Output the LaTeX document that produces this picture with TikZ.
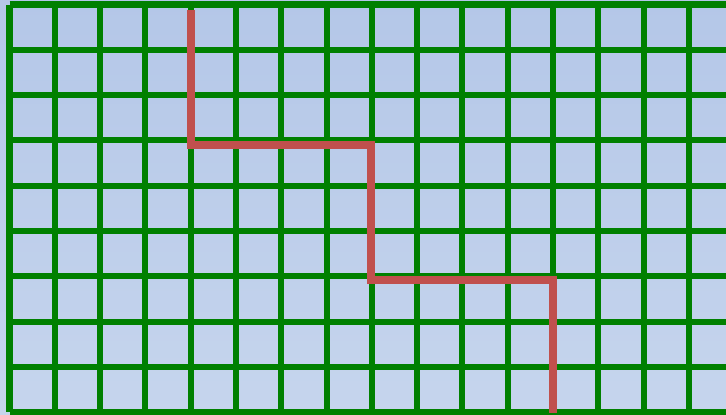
\documentclass[tikz,border=0pt]{standalone}
\definecolor{gridgreen}{RGB}{0,128,0}
\definecolor{pathred}{RGB}{192,80,77}
\definecolor{bgtop}{RGB}{180,199,232}
\definecolor{bgbottom}{RGB}{198,213,237}
\begin{document}
\begin{tikzpicture}[
  gridline/.style={draw=gridgreen, line width=3.8pt},
  route/.style={draw=pathred, line width=5pt, line join=miter}]

  % canvas
  \useasboundingbox (0,0) rectangle (16.03,-9.16);
  \shade[top color=bgtop, bottom color=bgbottom] (0,0) rectangle (16.03,-9.16);

  % grid
  \begin{scope}
    \clip (0,0) rectangle (16.03,-9.16);
    \foreach \i in {0,...,16}
      \draw[gridline] (0.21+\i,-0.1) -- (0.21+\i,-9.1);
    \foreach \j in {0,...,9}
      \draw[gridline] (0.21,-0.1-\j) -- (16.5,-0.1-\j);
  \end{scope}

  % staircase path
  \draw[route] (4.21,-0.22) -- (4.21,-3.2) -- (8.19,-3.2) -- (8.19,-6.19)
    -- (12.21,-6.19) -- (12.21,-9.11);

\end{tikzpicture}
\end{document}
